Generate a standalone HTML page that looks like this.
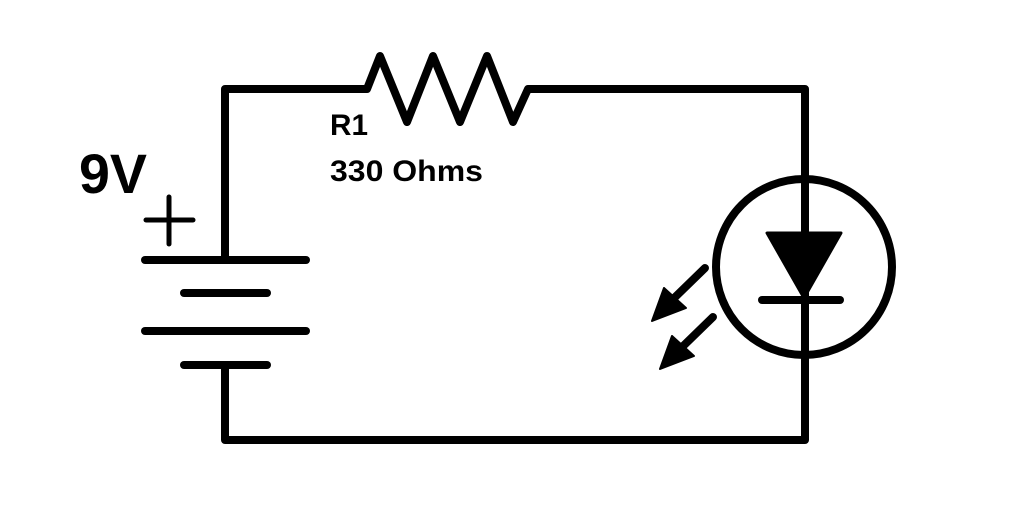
<!DOCTYPE html>
<html><head><style>
html,body{margin:0;padding:0;background:#fff;}
svg{display:block}
text{font-family:"Liberation Sans",sans-serif;font-weight:bold;fill:#000}
</style></head><body>
<svg width="1026" height="530" viewBox="0 0 1026 530">
<g fill="none" stroke="#000" stroke-width="8" stroke-linecap="round" stroke-linejoin="round">
<path d="M225 260 V89 H367 L380 56 L407 122 L433 56 L460 122 L487 56 L513 122 L528 89 H805 V440 H225 V365" stroke-linecap="butt"/>
<line x1="145" y1="260" x2="306" y2="260"/>
<line x1="184" y1="293" x2="267" y2="293"/>
<line x1="145" y1="331" x2="306" y2="331"/>
<line x1="184" y1="365" x2="267" y2="365"/>
<line x1="804" y1="260" x2="804" y2="270"/>
<circle cx="804" cy="267" r="88"/>
<line x1="762" y1="300" x2="840" y2="300"/>
<line x1="705" y1="268" x2="668" y2="304"/>
<line x1="713" y1="317" x2="676" y2="353"/>
</g>
<g stroke="#000" stroke-width="5" stroke-linecap="round">
<line x1="146" y1="220" x2="193" y2="220"/>
<line x1="169" y1="197" x2="169" y2="244"/>
</g>
<polygon points="767,233 841,233 804,298" fill="#000" stroke="#000" stroke-width="3" stroke-linejoin="round"/>
<polygon points="652,321 664,288 686,308" fill="#000" stroke="#000" stroke-width="2" stroke-linejoin="round"/>
<polygon points="660,369 672,336 694,356" fill="#000" stroke="#000" stroke-width="2" stroke-linejoin="round"/>
<text x="79" y="193" font-size="56" textLength="68" lengthAdjust="spacingAndGlyphs">9V</text>
<text x="330" y="135" font-size="30" textLength="38" lengthAdjust="spacingAndGlyphs">R1</text>
<text x="330" y="181" font-size="30" textLength="153" lengthAdjust="spacingAndGlyphs">330 Ohms</text>
</svg>
</body></html>
